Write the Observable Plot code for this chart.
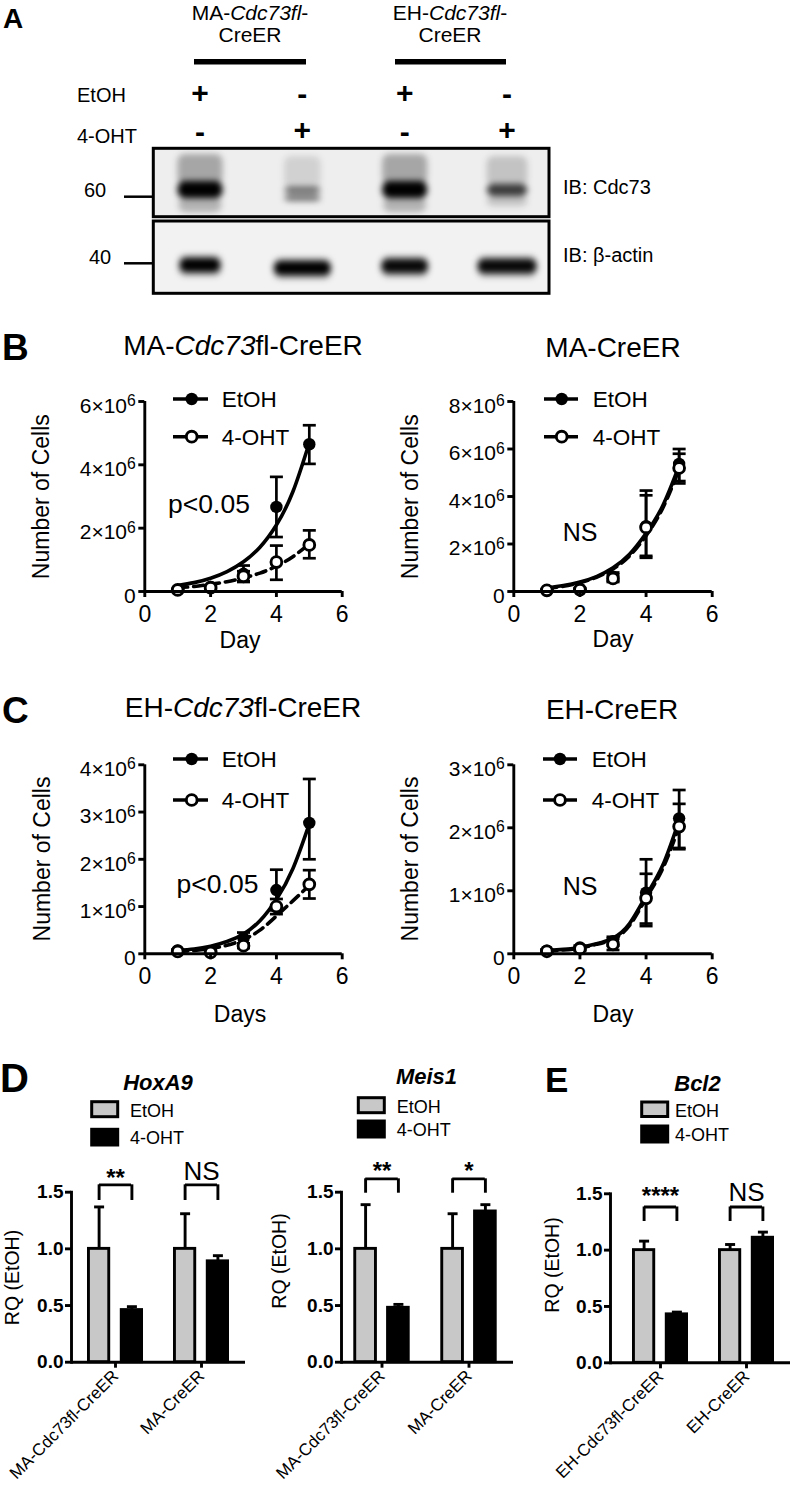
<!DOCTYPE html>
<html>
<head>
<meta charset="utf-8">
<script src="https://cdn.jsdelivr.net/npm/d3@7"></script>
<script src="https://cdn.jsdelivr.net/npm/@observablehq/plot@0.6"></script>
<style>
  html, body { margin: 0; padding: 0; background: #fff; }
  #fig { position: relative; width: 793px; height: 1487px; overflow: hidden; background: #fff; }
  #fig svg { position: absolute; }
</style>
</head>
<body>
<div id="fig"></div>
<script>
const FONT = '"Liberation Sans", Arial, Helvetica, sans-serif';

// ================= DATA =================
// ---- Panel A: western blot ----
const lanes = [1, 2, 3, 4];
const signEtOH = ["+", "-", "+", "-"];
const sign4OHT = ["-", "+", "-", "+"];
// [lane, migration from, migration to (blot rows), half width (lanes), darkness]
const cdc73Bands = [
  [1, 154, 184, 0.22, 0.30], [1, 181, 198, 0.22, 1.0], [1, 197, 212, 0.21, 0.25],
  [2, 156, 188, 0.18, 0.12], [2, 187, 193, 0.18, 0.60], [2, 195, 201, 0.18, 0.55],
  [3, 154, 184, 0.22, 0.30], [3, 181, 198, 0.22, 1.0], [3, 197, 212, 0.21, 0.25],
  [4, 156, 186, 0.20, 0.18], [4, 184, 196, 0.20, 0.75], [4, 196, 206, 0.20, 0.18]
];
const actinBands = [
  [1, 255, 276, 0.21, 0.30], [1, 258, 272, 0.20, 1.0],
  [2, 258, 279, 0.28, 0.30], [2, 261, 275, 0.28, 1.0],
  [3, 256, 277, 0.23, 0.30], [3, 259, 273, 0.23, 0.95],
  [4, 256, 277, 0.29, 0.30], [4, 259, 273, 0.29, 0.95]
];

// ---- Panels B, C: growth curves (values in 10^6 cells) ----
const days = [1, 2, 3, 4, 5];
const fitDays = [1, 1.5, 2, 2.5, 3, 3.5, 4, 4.5, 5];

const bL_EtOH    = [0.05, 0.14, 0.56, 2.67, 4.65];
const bL_EtOH_lo = [0.03, 0.08, 0.30, 1.72, 4.03];
const bL_EtOH_hi = [0.08, 0.20, 0.82, 3.62, 5.25];
const bL_OHT     = [0.05, 0.12, 0.48, 0.93, 1.47];
const bL_OHT_lo  = [0.03, 0.07, 0.32, 0.37, 1.05];
const bL_OHT_hi  = [0.07, 0.17, 0.64, 1.45, 1.93];
const bL_fitEtOH = [0.19, 0.28, 0.42, 0.63, 0.94, 1.40, 2.10, 3.15, 4.70];
const bL_fitOHT  = [0.12, 0.16, 0.23, 0.31, 0.43, 0.58, 0.80, 1.10, 1.50];

const bR_EtOH    = [0.05, 0.10, 0.62, 2.75, 5.37];
const bR_EtOH_lo = [0.03, 0.06, 0.45, 1.42, 4.55];
const bR_EtOH_hi = [0.07, 0.14, 0.80, 4.25, 6.00];
const bR_OHT     = [0.05, 0.08, 0.55, 2.70, 5.20];
const bR_OHT_lo  = [0.03, 0.05, 0.40, 1.50, 4.65];
const bR_OHT_hi  = [0.07, 0.11, 0.72, 4.05, 5.80];
const bR_fitEtOH = [0.15, 0.25, 0.40, 0.63, 1.00, 1.57, 2.45, 3.60, 5.30];
const bR_fitOHT  = [0.12, 0.22, 0.37, 0.60, 0.95, 1.50, 2.35, 3.50, 5.15];

const cL_EtOH    = [0.07, 0.05, 0.33, 1.35, 2.77];
const cL_EtOH_lo = [0.05, 0.03, 0.22, 0.92, 2.00];
const cL_EtOH_hi = [0.09, 0.08, 0.45, 1.78, 3.70];
const cL_OHT     = [0.05, 0.03, 0.17, 1.00, 1.47];
const cL_OHT_lo  = [0.03, 0.01, 0.12, 0.84, 1.17];
const cL_OHT_hi  = [0.07, 0.05, 0.22, 1.16, 1.77];
const cL_fitEtOH = [0.07, 0.10, 0.16, 0.26, 0.42, 0.70, 1.15, 1.80, 2.75];
const cL_fitOHT  = [0.05, 0.07, 0.11, 0.18, 0.30, 0.50, 0.80, 1.12, 1.45];

const cR_EtOH    = [0.05, 0.10, 0.20, 0.97, 2.15];
const cR_EtOH_lo = [0.03, 0.07, 0.13, 0.48, 1.68];
const cR_EtOH_hi = [0.07, 0.13, 0.27, 1.50, 2.60];
const cR_OHT     = [0.04, 0.08, 0.15, 0.88, 2.02];
const cR_OHT_lo  = [0.02, 0.05, 0.06, 0.44, 1.66];
const cR_OHT_hi  = [0.06, 0.11, 0.24, 1.27, 2.38];
const cR_fitEtOH = [0.05, 0.07, 0.10, 0.16, 0.25, 0.48, 0.92, 1.40, 2.12];
const cR_fitOHT  = [0.04, 0.06, 0.09, 0.15, 0.23, 0.45, 0.88, 1.35, 2.02];

// ---- Panels D, E: qPCR (RQ relative to EtOH) ----
const maGroups = ["MA-Cdc73fl-CreER", "MA-CreER"];
const ehGroups = ["EH-Cdc73fl-CreER", "EH-CreER"];
const hoxa9EtOH = [1.00, 1.00], hoxa9EtOH_hi = [1.37, 1.31];
const hoxa9OHT  = [0.46, 0.89], hoxa9OHT_hi  = [0.49, 0.94];
const hoxa9Sig  = ["**", "NS"];
const meis1EtOH = [1.00, 1.00], meis1EtOH_hi = [1.39, 1.31];
const meis1OHT  = [0.48, 1.33], meis1OHT_hi  = [0.51, 1.39];
const meis1Sig  = ["**", "*"];
const bcl2EtOH  = [1.00, 1.00], bcl2EtOH_hi = [1.08, 1.05];
const bcl2OHT   = [0.43, 1.11], bcl2OHT_hi  = [0.45, 1.16];
const bcl2Sig   = ["****", "NS"];
const rqTicks = [0, 0.5, 1.0, 1.5];

// ================= DRAWING =================
const fig = d3.select("#fig");
const plotStyle = {background: "none", overflow: "visible", fontFamily: FONT, color: "black"};
const capSymbol = {draw(ctx, size) { const r = Math.sqrt(size / Math.PI); ctx.moveTo(-r, 0); ctx.lineTo(r, 0); }};
function place(el, left, top) {
  el.style.position = "absolute"; el.style.left = left + "px"; el.style.top = top + "px";
  fig.node().appendChild(el); return el;
}
function sup(svg) {
  d3.select(svg).selectAll("text").each(function () {
    const s = this.textContent;
    if (s.includes("^")) {
      const [a, b] = s.split("^");
      const t = d3.select(this); t.text(a);
      t.append("tspan").attr("dy", "-0.42em").attr("font-size", "0.75em").text(b);
    }
  });
}

// underlay: blot backgrounds
const under = fig.append("svg").attr("width", 793).attr("height", 300).style("left", "0px").style("top", "0px");
under.append("rect").attr("x", 153).attr("y", 148).attr("width", 396).attr("height", 69).attr("fill", "#eeeeee");
under.append("rect").attr("x", 153).attr("y", 221).attr("width", 396).attr("height", 72).attr("fill", "#f2f2f2");

// ---- Panel A bands ----
const bandRows = [...cdc73Bands, ...actinBands].map(([lane, y1, y2, hw, o]) => ({lane, y1, y2, hw, o}));
const plotA = Plot.plot({
  width: 793, height: 300, margin: 0, style: plotStyle,
  x: {domain: [1, 4], range: [200, 507], axis: null},
  y: {domain: [0, 300], range: [0, 300], axis: null},
  opacity: {type: "identity"},
  marks: [
    Plot.rect(bandRows, {x1: d => d.lane - d.hw, x2: d => d.lane + d.hw, y1: "y1", y2: "y2",
      fill: "black", fillOpacity: "o", rx: 7})
  ]
});
{
  const s = d3.select(plotA);
  const f = s.insert("defs", ":first-child").append("filter").attr("id", "blotBlur")
    .attr("x", "-20%").attr("y", "-40%").attr("width", "140%").attr("height", "180%");
  f.append("feGaussianBlur").attr("stdDeviation", 3.2);
  s.selectAll('g[aria-label="rect"]').attr("filter", "url(#blotBlur)");
}
place(plotA, 0, 0);
const laneX = plotA.scale("x");

// ---- Line charts ----
function lineChart(c) {
  const pts = (m, lo, hi) => days.map((d, i) => ({day: d, m: m[i], lo: lo[i], hi: hi[i]}));
  const E = pts(c.etoh, c.etohLo, c.etohHi), O = pts(c.oht, c.ohtLo, c.ohtHi);
  const fE = fitDays.map((d, i) => ({day: d, v: c.fitE[i]}));
  const fO = fitDays.map((d, i) => ({day: d, v: c.fitO[i]}));
  const sw = 2.9;
  const svg = Plot.plot({
    width: c.w, height: c.h,
    marginLeft: c.x0 - c.left, marginRight: c.left + c.w - c.x6,
    marginTop: c.yTop - c.top, marginBottom: c.top + c.h - c.y0,
    style: plotStyle,
    x: {domain: [0, 6]},
    y: {domain: [0, c.yMax]},
    marks: [
      Plot.line(fE, {x: "day", y: "v", stroke: "black", strokeWidth: 3.6, curve: "natural"}),
      Plot.line(fO, {x: "day", y: "v", stroke: "black", strokeWidth: 3.6, strokeDasharray: "10,6", curve: "natural"}),
      ...[E, O].flatMap(S => [
        Plot.ruleX(S, {x: "day", y1: "lo", y2: "hi", stroke: "black", strokeWidth: 2.7}),
        Plot.dot(S, {x: "day", y: "hi", symbol: capSymbol, r: 6.5, fill: "none", stroke: "black", strokeWidth: 2.7}),
        Plot.dot(S, {x: "day", y: "lo", symbol: capSymbol, r: 6.5, fill: "none", stroke: "black", strokeWidth: 2.7})
      ]),
      Plot.dot(E, {x: "day", y: "m", r: 6.2, fill: "black"}),
      Plot.dot(O, {x: "day", y: "m", r: 5.4, fill: "white", stroke: "black", strokeWidth: 2.9}),
      Plot.ruleX([0], {stroke: "black", strokeWidth: sw}),
      Plot.ruleY([0], {stroke: "black", strokeWidth: sw}),
      Plot.axisX({ticks: [0, 2, 4, 6], tickFormat: d => String(d), tickSize: 6, tickPadding: 8, fontSize: 23,
        stroke: "black", strokeWidth: sw, label: null}),
      Plot.axisY({ticks: c.yTicks, tickSize: 6, stroke: "black", strokeWidth: sw, fill: "none", label: null}),
      Plot.text(c.yTicks, {frameAnchor: "left", y: d => d, text: d => d === 0 ? "0" : `${d}×10^6`,
        textAnchor: "end", dx: -9, dy: 4.5, fontSize: 21, fill: "black"})
    ]
  });
  sup(svg);
  place(svg, c.left, c.top);
}

lineChart({left: 0, top: 300, w: 380, h: 360, x0: 144.3, x6: 341.7, yTop: 401, y0: 591, yMax: 6, yTicks: [0, 2, 4, 6],
  etoh: bL_EtOH, etohLo: bL_EtOH_lo, etohHi: bL_EtOH_hi, oht: bL_OHT, ohtLo: bL_OHT_lo, ohtHi: bL_OHT_hi,
  fitE: bL_fitEtOH, fitO: bL_fitOHT});
lineChart({left: 380, top: 300, w: 413, h: 360, x0: 513.3, x6: 711.7, yTop: 401, y0: 591, yMax: 8, yTicks: [0, 2, 4, 6, 8],
  etoh: bR_EtOH, etohLo: bR_EtOH_lo, etohHi: bR_EtOH_hi, oht: bR_OHT, ohtLo: bR_OHT_lo, ohtHi: bR_OHT_hi,
  fitE: bR_fitEtOH, fitO: bR_fitOHT});
lineChart({left: 0, top: 660, w: 380, h: 370, x0: 144.3, x6: 341.7, yTop: 764.3, y0: 953.3, yMax: 4, yTicks: [0, 1, 2, 3, 4],
  etoh: cL_EtOH, etohLo: cL_EtOH_lo, etohHi: cL_EtOH_hi, oht: cL_OHT, ohtLo: cL_OHT_lo, ohtHi: cL_OHT_hi,
  fitE: cL_fitEtOH, fitO: cL_fitOHT});
lineChart({left: 380, top: 660, w: 413, h: 370, x0: 513.3, x6: 711.7, yTop: 764.3, y0: 953.3, yMax: 3, yTicks: [0, 1, 2, 3],
  etoh: cR_EtOH, etohLo: cR_EtOH_lo, etohHi: cR_EtOH_hi, oht: cR_OHT, ohtLo: cR_OHT_lo, ohtHi: cR_OHT_hi,
  fitE: cR_fitEtOH, fitO: cR_fitOHT});

// ---- Bar charts ----
function barChart(c) {
  const step = c.c2 - c.c1, off = 16.4, bw = 21, sw = 2.9;
  const rec = (v, hi) => c.groups.map((g, i) => ({group: g, v: v[i], hi: hi[i]}));
  const E = rec(c.etoh, c.etohHi), O = rec(c.oht, c.ohtHi);
  const S = c.groups.map((g, i) => ({group: g, label: c.sig[i]}));
  const insE = {insetLeft: step / 2 - off - bw / 2, insetRight: step / 2 + off - bw / 2};
  const insO = {insetLeft: step / 2 + off - bw / 2, insetRight: step / 2 - off - bw / 2};
  const line = {stroke: "black", strokeWidth: sw};
  const svg = Plot.plot({
    width: c.w, height: c.h,
    marginLeft: c.yx - c.left, marginRight: c.left + c.w - c.xEnd,
    marginTop: c.yTop - c.top, marginBottom: c.top + c.h - c.y0,
    style: plotStyle,
    x: {type: "band", domain: c.groups, range: [c.c1 - step / 2 - c.left, c.c2 + step / 2 - c.left], padding: 0},
    y: {domain: [0, 1.5]},
    marks: [
      Plot.ruleX(E, {x: "group", y1: "v", y2: "hi", dx: -off, ...line}),
      Plot.dot(E, {x: "group", y: "hi", dx: -off, symbol: capSymbol, r: 5, fill: "none", ...line}),
      Plot.ruleX(O, {x: "group", y1: "v", y2: "hi", dx: off, ...line}),
      Plot.dot(O, {x: "group", y: "hi", dx: off, symbol: capSymbol, r: 5, fill: "none", ...line}),
      Plot.barY(E, {x: "group", y1: 0, y2: "v", fill: "#c8c8c8", ...line, ...insE}),
      Plot.barY(O, {x: "group", y1: 0, y2: "v", fill: "black", ...line, ...insO}),
      Plot.tickY(S, {x: "group", y: c.brTop, insetLeft: step / 2 - off, insetRight: step / 2 - off, ...line}),
      Plot.ruleX(S, {x: "group", y1: c.brBot, y2: c.brTop, dx: -off, ...line}),
      Plot.ruleX(S, {x: "group", y1: c.brBot, y2: c.brTop, dx: off, ...line}),
      Plot.text(S.filter(d => d.label !== "NS"), {x: "group", y: c.brTop, text: "label", lineAnchor: "bottom",
        dy: c.starDy, fontSize: 24, fontWeight: "bold", fill: "black"}),
      Plot.text(S.filter(d => d.label === "NS"), {x: "group", y: c.brTop, text: "label", lineAnchor: "bottom",
        dy: c.nsDy, fontSize: 26, fill: "black"}),
      Plot.ruleY([0], line),
      Plot.frame({anchor: "left", ...line}),
      Plot.axisY({ticks: rqTicks, tickFormat: d3.format(".1f"), tickSize: 6, tickPadding: 2, fontSize: 19,
        fontWeight: "bold", ...line, label: null}),
      Plot.axisX({tickSize: 6, tickPadding: 5, tickRotate: -45, fontSize: 17, ...line, label: null})
    ]
  });
  place(svg, c.left, c.top);
}

barChart({left: 0, top: 1020, w: 262, h: 467, yx: 71, xEnd: 245, yTop: 1191.7, y0: 1361.7, c1: 114.3, c2: 201,
  groups: maGroups, etoh: hoxa9EtOH, etohHi: hoxa9EtOH_hi, oht: hoxa9OHT, ohtHi: hoxa9OHT_hi, sig: hoxa9Sig,
  brTop: 1.565, brBot: 1.427, starDy: 1, nsDy: -5.3});
barChart({left: 262, top: 1020, w: 268, h: 467, yx: 341, xEnd: 513, yTop: 1191.7, y0: 1361.7, c1: 381.7, c2: 469,
  groups: maGroups, etoh: meis1EtOH, etohHi: meis1EtOH_hi, oht: meis1OHT, ohtHi: meis1OHT_hi, sig: meis1Sig,
  brTop: 1.618, brBot: 1.491, starDy: 0, nsDy: -5});
barChart({left: 530, top: 1020, w: 263, h: 467, yx: 610, xEnd: 790, yTop: 1193.3, y0: 1362.3, c1: 660, c2: 746.7,
  groups: ehGroups, etoh: bcl2EtOH, etohHi: bcl2EtOH_hi, oht: bcl2OHT, ohtHi: bcl2OHT_hi, sig: bcl2Sig,
  brTop: 1.383, brBot: 1.254, starDy: -3, nsDy: -6});

// ================= OVERLAY: labels, legends, frames =================
const ov = fig.append("svg").attr("width", 793).attr("height", 1487).style("left", "0px").style("top", "0px")
  .attr("font-family", FONT).style("pointer-events", "none");
function T(x, y, s, size, o = {}) {
  const t = ov.append("text").attr("x", x).attr("y", y).attr("font-size", size)
    .attr("text-anchor", o.anchor || "start").attr("font-weight", o.bold ? "bold" : "normal")
    .attr("font-style", o.italic ? "italic" : "normal").attr("fill", "black");
  if (o.rotate) t.attr("transform", `rotate(${o.rotate} ${x} ${y})`);
  if (Array.isArray(s)) s.forEach(([txt, it]) => t.append("tspan").attr("font-style", it ? "italic" : "normal").text(txt));
  else t.text(s);
  return t;
}
function L(x1, y1, x2, y2, w) {
  ov.append("line").attr("x1", x1).attr("y1", y1).attr("x2", x2).attr("y2", y2)
    .attr("stroke", "black").attr("stroke-width", w);
}
const M = {anchor: "middle"};

// Panel A
T(3, 28, "A", 28, {bold: true});
T(250, 20, [["MA-"], ["Cdc73fl", 1], ["-"]], 21, M);
T(250, 42, "CreER", 21, M);
T(450, 20, [["EH-"], ["Cdc73fl", 1], ["-"]], 21, M);
T(450, 42, "CreER", 21, M);
L(194, 61.7, 306, 61.7, 5.5);
L(395, 61.7, 506, 61.7, 5.5);
T(77, 102, "EtOH", 20);
T(77, 143, "4-OHT", 20);
lanes.forEach((ln, i) => {
  const x = laneX.apply(ln);
  T(x, signEtOH[i] === "+" ? 102.5 : 104, signEtOH[i], 30, {anchor: "middle", bold: true});
  T(x, sign4OHT[i] === "+" ? 139.5 : 142, sign4OHT[i], 30, {anchor: "middle", bold: true});
});
ov.append("rect").attr("x", 153.3).attr("y", 148.3).attr("width", 395.7).attr("height", 68.4)
  .attr("fill", "none").attr("stroke", "black").attr("stroke-width", 3);
ov.append("rect").attr("x", 153.3).attr("y", 221).attr("width", 395.7).attr("height", 72.3)
  .attr("fill", "none").attr("stroke", "black").attr("stroke-width", 3);
T(95, 197, "60", 20, M); L(124, 196.7, 153, 196.7, 2.5);
T(100, 264, "40", 20, M); L(124, 263.3, 153, 263.3, 2.5);
T(563, 193.5, "IB: Cdc73", 20);
T(563, 262, "IB: β-actin", 20);

// Panels B, C
function lineLegend(x1, x2, xd, xt, yE, yO) {
  L(x1, yE, x2, yE, 3.6);
  ov.append("circle").attr("cx", xd).attr("cy", yE).attr("r", 6.2).attr("fill", "black");
  T(xt, yE + 8, "EtOH", 22.5);
  L(x1, yO, x2, yO, 3.6);
  ov.append("circle").attr("cx", xd).attr("cy", yO).attr("r", 5.4).attr("fill", "white")
    .attr("stroke", "black").attr("stroke-width", 2.9);
  T(xt, yO + 8, "4-OHT", 22.5);
}
T(2, 360, "B", 37, {bold: true});
T(243, 355, [["MA-"], ["Cdc73", 1], ["fl-CreER"]], 28, M);
T(613, 356.5, "MA-CreER", 28, M);
lineLegend(173, 208, 191.7, 221.7, 399, 436.7);
lineLegend(544, 578, 561.7, 592.7, 399, 436.7);
T(209, 513, "p<0.05", 26.5, M);
T(580, 540.5, "NS", 25, M);
T(49.5, 496.7, "Number of Cells", 23, {anchor: "middle", rotate: -90});
T(418, 496.7, "Number of Cells", 23, {anchor: "middle", rotate: -90});
T(240, 648, "Day", 23, M);
T(613, 646.7, "Day", 23, M);

T(2, 723, "C", 37, {bold: true});
T(243, 717.3, [["EH-"], ["Cdc73", 1], ["fl-CreER"]], 28, M);
T(612, 719, "EH-CreER", 28, M);
lineLegend(173, 208, 191.7, 221.7, 759, 800);
lineLegend(543, 577, 560, 591.7, 759, 800);
T(217.5, 893, "p<0.05", 26.5, M);
T(580, 895, "NS", 25, M);
T(49.5, 859, "Number of Cells", 23, {anchor: "middle", rotate: -90});
T(418, 859, "Number of Cells", 23, {anchor: "middle", rotate: -90});
T(240, 1022, "Days", 23, M);
T(613, 1022, "Day", 23, M);

// Panels D, E
function barLegend(xr, xt, yE, yO, hE, hO) {
  ov.append("rect").attr("x", xr).attr("y", yE).attr("width", 26).attr("height", hE)
    .attr("fill", "#c8c8c8").attr("stroke", "black").attr("stroke-width", 3);
  T(xt, yE + hE, "EtOH", 18);
  ov.append("rect").attr("x", xr).attr("y", yO).attr("width", 26).attr("height", hO)
    .attr("fill", "black").attr("stroke", "black").attr("stroke-width", 3);
  T(xt, yO + hO - 1, "4-OHT", 18);
}
T(0, 1092, "D", 40, {bold: true});
T(545, 1092, "E", 35, {bold: true});
T(158, 1090, "HoxA9", 22, {anchor: "middle", bold: true, italic: true});
T(426.5, 1084, "Meis1", 22, {anchor: "middle", bold: true, italic: true});
T(697.5, 1090.5, "Bcl2", 22, {anchor: "middle", bold: true, italic: true});
barLegend(91.7, 130, 1101.7, 1129.3, 15, 15.7);
barLegend(358.3, 396.7, 1097.7, 1121, 15, 16);
barLegend(641.7, 675, 1102, 1126, 14.5, 16);
T(19, 1277.5, "RQ (EtOH)", 19.5, {anchor: "middle", rotate: -90});
T(286, 1261, "RQ (EtOH)", 19.5, {anchor: "middle", rotate: -90});
T(559, 1265, "RQ (EtOH)", 19.5, {anchor: "middle", rotate: -90});
</script>
</body>
</html>
